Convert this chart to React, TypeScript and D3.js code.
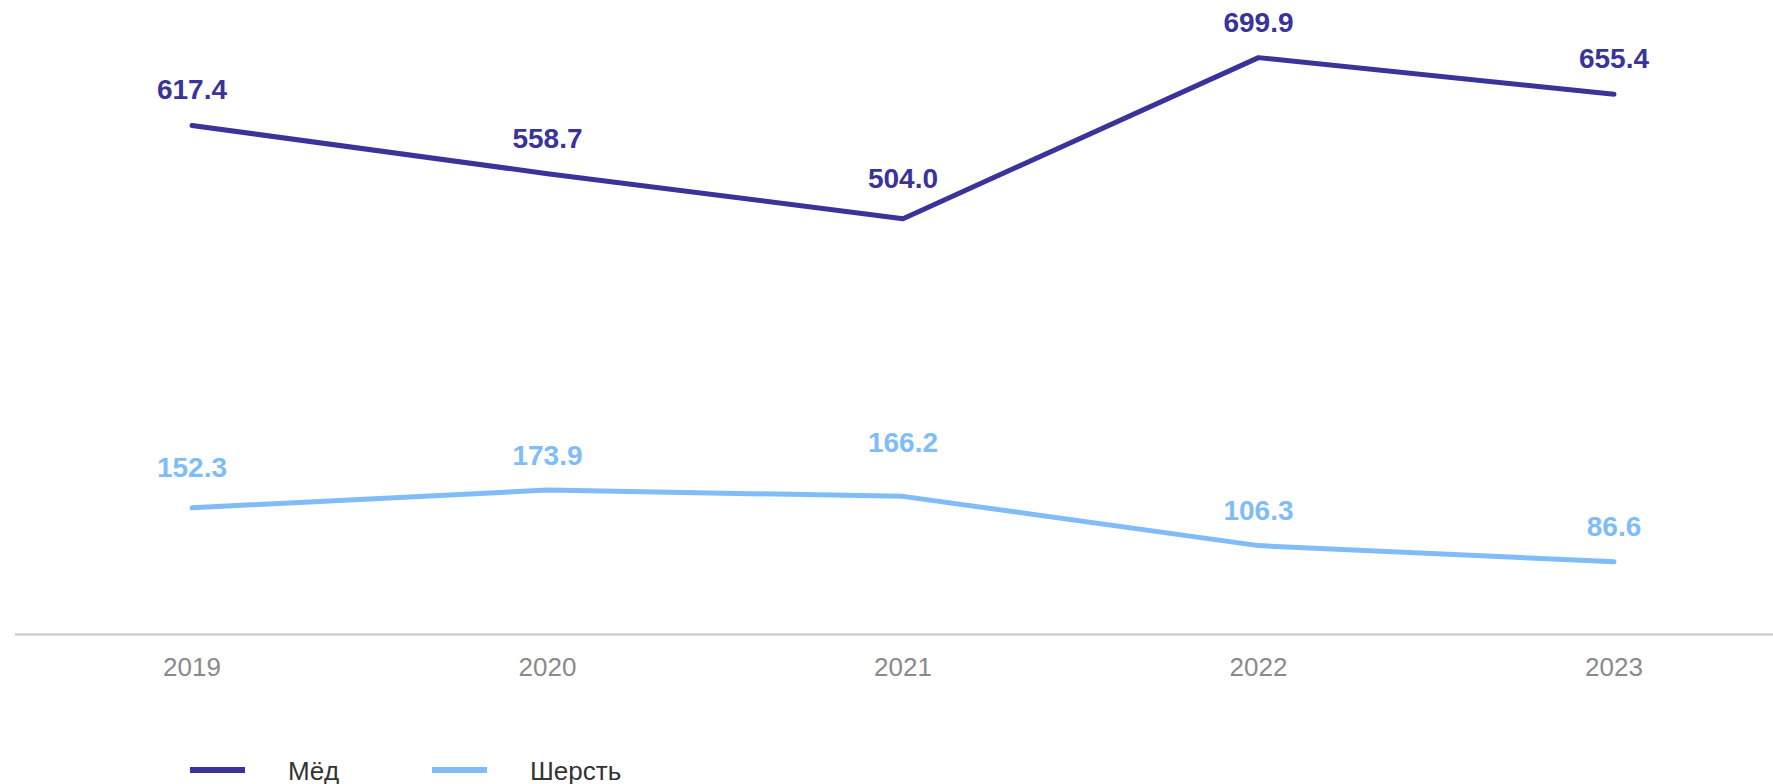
import React from "react";
import * as d3 from "d3";

const years = ["2019", "2020", "2021", "2022", "2023"];
const honey = [617.4, 558.7, 504.0, 699.9, 655.4];
const wool = [152.3, 173.9, 166.2, 106.3, 86.6];
const seriesNames = ["Мёд", "Шерсть"];
const colors = ["#39339a", "#7fbcf8"];
// label lift above each point (layout only)
const honeyLift = [26, 26, 31, 26, 26];
const woolLift = [31, 25, 44, 26, 26];

const W = 1773;
const H = 784;

export default function App() {
  const x = d3.scalePoint<string>().domain(years).range([192, 1614]);
  const y = d3.scaleLinear().domain([0, 770]).range([633, 0]);
  const line = d3
    .line<number>()
    .x((_, i) => x(years[i]) as number)
    .y((d) => y(d));
  const series = [honey, wool];
  const lifts = [honeyLift, woolLift];
  const font = "Liberation Sans, Arial, sans-serif";
  const legendX = [190, 432];
  return (
    <svg
      width={W}
      height={H}
      style={{ position: "absolute", left: 0, top: 0, background: "#fff" }}
      fontFamily={font}
    >
      <line x1={15} x2={W} y1={634.5} y2={634.5} stroke="#c6c6c6" strokeWidth={2} />
      {years.map((yr) => (
        <text
          key={yr}
          x={x(yr)}
          y={676}
          textAnchor="middle"
          fontSize={26}
          fill="#8a8a8a"
        >
          {yr}
        </text>
      ))}
      {series.map((s, si) => (
        <g key={si}>
          <path
            d={line(s) || ""}
            fill="none"
            stroke={colors[si]}
            strokeWidth={5}
            strokeLinecap="round"
            strokeLinejoin="round"
          />
          {s.map((v, i) => (
            <text
              key={i}
              x={x(years[i])}
              y={y(v) - lifts[si][i]}
              textAnchor="middle"
              fontSize={28}
              fontWeight="bold"
              fill={colors[si]}
            >
              {v.toFixed(1)}
            </text>
          ))}
        </g>
      ))}
      {seriesNames.map((n, i) => (
        <g key={n}>
          <line
            x1={legendX[i]}
            x2={legendX[i] + 55}
            y1={770}
            y2={770}
            stroke={colors[i]}
            strokeWidth={6}
          />
          <text x={legendX[i] + 98} y={780} fontSize={26} fill="#333">
            {n}
          </text>
        </g>
      ))}
    </svg>
  );
}
